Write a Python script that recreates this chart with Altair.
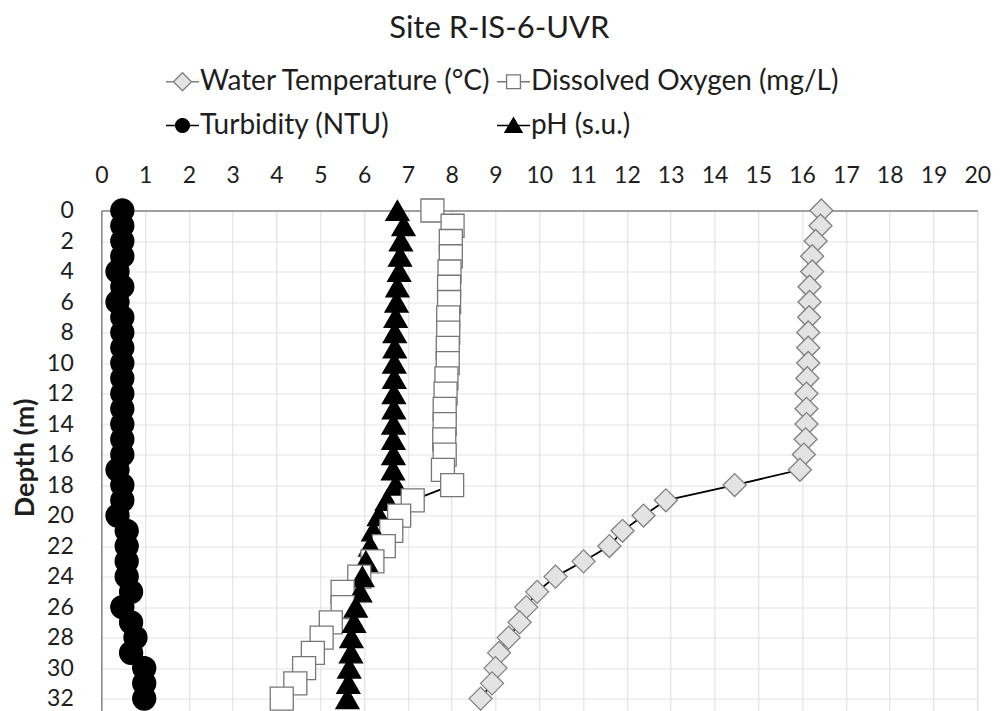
import altair as alt
import pandas as pd

# ---------------- data ----------------
depth = list(range(33))

water_temp = [16.44, 16.42, 16.31, 16.23, 16.23, 16.17, 16.17, 16.16, 16.14, 16.14,
              16.14, 16.12, 16.10, 16.10, 16.10, 16.08, 16.04, 15.95, 14.46, 12.89,
              12.38, 11.90, 11.60, 11.01, 10.37, 9.95, 9.70, 9.55, 9.30, 9.08,
              9.00, 8.92, 8.66]

dissolved_oxygen = [7.56, 8.02, 7.98, 7.98, 7.95, 7.94, 7.94, 7.92, 7.92, 7.91,
                    7.91, 7.88, 7.86, 7.84, 7.84, 7.83, 7.84, 7.80, 8.01, 7.11,
                    6.80, 6.62, 6.45, 6.19, 5.89, 5.51, 5.51, 5.24, 5.03, 4.83,
                    4.63, 4.43, 4.12]

turbidity = [0.48, 0.48, 0.48, 0.48, 0.37, 0.48, 0.37, 0.48, 0.48, 0.48,
             0.48, 0.48, 0.48, 0.48, 0.48, 0.48, 0.48, 0.37, 0.48, 0.48,
             0.37, 0.58, 0.58, 0.58, 0.58, 0.68, 0.48, 0.68, 0.78, 0.68,
             0.98, 0.98, 0.98]

ph = [6.76, 6.90, 6.84, 6.82, 6.80, 6.76, 6.74, 6.72, 6.70, 6.70,
      6.69, 6.69, 6.68, 6.68, 6.67, 6.67, 6.67, 6.66, 6.72, 6.52,
      6.34, 6.21, 6.14, 6.04, 5.96, 5.91, 5.81, 5.77, 5.71, 5.70,
      5.66, 5.64, 5.62]

series_names = ["Water Temperature (°C)", "Dissolved Oxygen (mg/L)",
                "Turbidity (NTU)", "pH (s.u.)"]
x_ticks = list(range(0, 21))
y_ticks = list(range(0, 33, 2))

rows = []
for name, vals in zip(series_names, [water_temp, dissolved_oxygen, turbidity, ph]):
    for d, v in zip(depth, vals):
        rows.append({"series": name, "depth": d, "value": v})
df = pd.DataFrame(rows)

# ---------------- styling ----------------
FONT = "Lato"
TXT = "#1e1e1e"

shapes = ["diamond", "square", "circle", "triangle-up"]
fills = ["#e3e3e3", "#ffffff", "#000000", "#000000"]
strokes = ["#808080", "#767676", "#000000", "#000000"]
sizes = [529, 529, 529, 625]

# legend symbols: marker with short line stubs (Excel style), unit box [-1, 1]
p_diamond = "M-1,0L-0.55,0M0.55,0L1,0M-0.55,0L0,-0.55L0.55,0L0,0.55Z"
p_square = "M-1,0L-0.42,0M0.42,0L1,0M-0.42,-0.42L0.42,-0.42L0.42,0.42L-0.42,0.42Z"
p_circle = ("M-1,0L-0.42,0M0.42,0L1,0M0.42,0A0.42,0.42,0,1,1,-0.42,0"
            "A0.42,0.42,0,1,1,0.42,0Z")
p_tri = "M-1,0L-0.27,0M0.27,0L1,0M0,-0.47L0.52,0.42L-0.52,0.42Z"
legend_shapes = [p_diamond, p_square, p_circle, p_tri]

legend = alt.Legend(
    title=None, orient="none", legendX=63.7, legendY=-146.5, columns=2,
    direction="horizontal",
    labelFont=FONT, labelFontSize=28, labelColor=TXT, labelLimit=400,
    symbolSize=1089, symbolStrokeWidth=1.3, symbolOpacity=1,
    columnPadding=3, rowPadding=12, labelOffset=0, padding=0,
)

x_enc = alt.X(
    "value:Q",
    scale=alt.Scale(domain=[0, 20], nice=False, zero=False),
    axis=alt.Axis(
        orient="top", values=x_ticks, title=None, ticks=False, tickSize=0,
        labelFont=FONT, labelFontSize=23, labelColor=TXT, labelPadding=23,
        labelAngle=0, labelFlush=False, labelOverlap=False,
        domainColor="#868686", domainWidth=1.5,
        grid=True, gridColor="#e3e3e3", gridWidth=1.2,
    ),
)
y_enc = alt.Y(
    "depth:Q",
    scale=alt.Scale(domain=[0, 33.5], reverse=True, nice=False, zero=False),
    axis=alt.Axis(
        values=y_ticks, title="Depth (m)", ticks=False, tickSize=0,
        labelFont=FONT, labelFontSize=23, labelColor=TXT, labelPadding=28,
        labelFlush=False, labelOverlap=False,
        titleFont=FONT, titleFontSize=27, titleFontWeight="bold", titleColor=TXT,
        titlePadding=7, titleY=247,
        domainColor="#868686", domainWidth=1.5,
        grid=True, gridColor="#e3e3e3", gridWidth=1.2,
    ),
)

lines = alt.Chart(df).mark_line(color="#000000", strokeWidth=1.8).encode(
    x=x_enc, y=y_enc, detail="series:N", order="depth:Q"
)

points = alt.Chart(df).mark_point(filled=True, opacity=1, strokeWidth=1.3).encode(
    x=x_enc,
    y=y_enc,
    shape=alt.Shape("series:N", scale=alt.Scale(domain=series_names, range=shapes),
                    legend=None),
    fill=alt.Fill("series:N", scale=alt.Scale(domain=series_names, range=fills),
                  legend=None),
    stroke=alt.Stroke("series:N", scale=alt.Scale(domain=series_names, range=strokes),
                      legend=None),
    size=alt.Size("series:N", scale=alt.Scale(domain=series_names, range=sizes),
                  legend=None),
    order=alt.Order("depth:Q"),
)

# legend-only layer (no rows drawn): shows Excel-like "-marker-" symbols
legend_layer = (
    alt.Chart(df)
    .transform_filter("datum.depth < 0")
    .transform_calculate(entry="datum.series")
    .mark_point(filled=True, opacity=1, strokeWidth=1.3)
    .encode(
        x=x_enc,
        y=y_enc,
        shape=alt.Shape("entry:N", scale=alt.Scale(domain=series_names, range=legend_shapes),
                        legend=legend),
        fill=alt.Fill("entry:N", scale=alt.Scale(domain=series_names, range=fills),
                      legend=legend),
        stroke=alt.Stroke("entry:N", scale=alt.Scale(domain=series_names, range=strokes),
                          legend=legend),
    )
)

chart = (
    alt.layer(lines, points, legend_layer)
    .resolve_scale(shape="independent", fill="independent", stroke="independent",
                   size="independent")
    .properties(
        width=876,
        height=511,
        title=alt.TitleParams(
            "Site R-IS-6-UVR", font=FONT, fontSize=31, fontWeight="normal",
            color=TXT, anchor="middle", frame="group", dx=-40, offset=19,
        ),
        autosize=alt.AutoSizeParams(type="none"),
        padding={"left": 93.3, "top": 202.5, "right": 15.7, "bottom": 0},
    )
    .configure_view(stroke="#d4d4d4", strokeWidth=2)
    .configure(background="white")
)

chart.save("out.html", embed_options={"renderer": "svg", "actions": False})
